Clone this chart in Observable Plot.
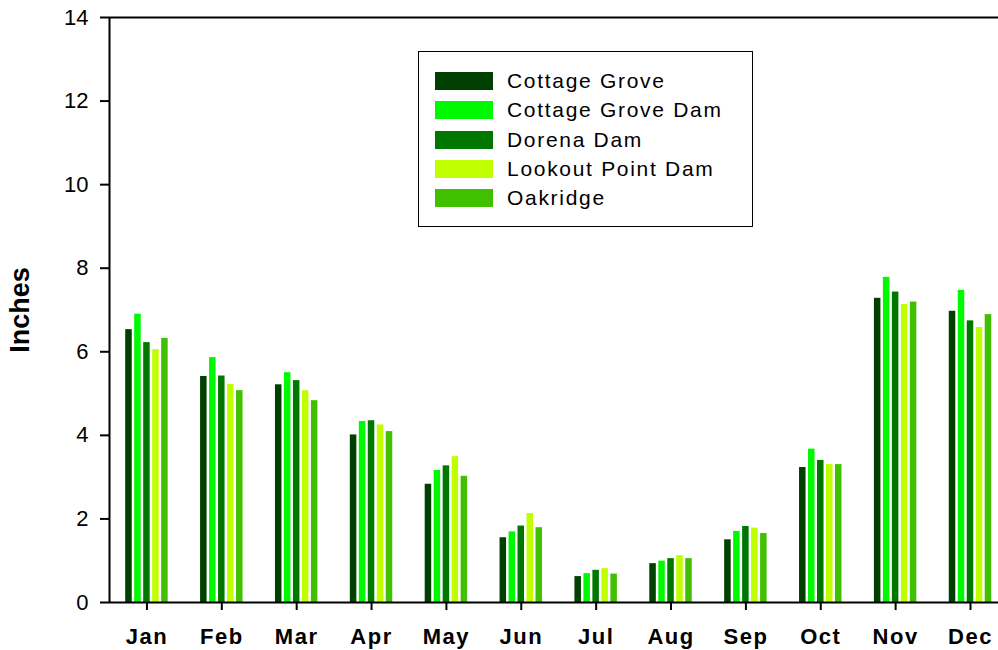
<!DOCTYPE html>
<html>
<head>
<meta charset="utf-8">
<script src="https://cdn.jsdelivr.net/npm/d3@7"></script>
<script src="https://cdn.jsdelivr.net/npm/@observablehq/plot@0.6"></script>
<style>
  html, body { margin: 0; padding: 0; background: #fff; overflow: hidden; }
  #wrap { position: relative; width: 998px; height: 650px; font-family: "Liberation Sans", Arial, sans-serif; }
  #legend { position: absolute; left: 418px; top: 51px; width: 333px; height: 174px; border: 1.5px solid #000; background: #fff; box-sizing: content-box; }
  .row { position: absolute; left: 16px; height: 20px; display: flex; align-items: center; }
  .sw { width: 58px; height: 18px; margin-right: 14px; }
  .lab { font-size: 21px; letter-spacing: 1.7px; color: #000; white-space: nowrap; }
</style>
</head>
<body>
<div id="wrap"><div id="chart"></div><div id="legend"></div></div>
<script>
const months = ["Jan","Feb","Mar","Apr","May","Jun","Jul","Aug","Sep","Oct","Nov","Dec"];
const series = ["Cottage Grove","Cottage Grove Dam","Dorena Dam","Lookout Point Dam","Oakridge"];
const colors = ["#004000","#00f800","#007800","#c0ff00","#40c000"];
const cottageGrove     = [6.53,5.41,5.21,4.01,2.83,1.55,0.62,0.93,1.50,3.23,7.28,6.97];
const cottageGroveDam  = [6.90,5.86,5.50,4.33,3.16,1.69,0.69,0.99,1.70,3.67,7.78,7.47];
const dorenaDam        = [6.22,5.42,5.31,4.35,3.27,1.83,0.77,1.05,1.82,3.40,7.43,6.74];
const lookoutPointDam  = [6.05,5.22,5.07,4.25,3.49,2.13,0.81,1.12,1.78,3.30,7.13,6.58];
const oakridge         = [6.32,5.07,4.83,4.09,3.02,1.79,0.68,1.05,1.65,3.30,7.19,6.89];
const yTicks = [0,2,4,6,8,10,12,14];

const valueArrays = [cottageGrove, cottageGroveDam, dorenaDam, lookoutPointDam, oakridge];
const data = [];
valueArrays.forEach((arr, s) => arr.forEach((v, i) => data.push({month: i + 1, s, series: series[s], value: v})));

const step = 0.12, bw = 0.087;
const fontFamily = '"Liberation Sans", Arial, sans-serif';

const chart = Plot.plot({
  width: 998,
  height: 650,
  marginLeft: 109,
  marginRight: 0,
  marginTop: 17,
  marginBottom: 48,
  style: {fontFamily, background: "#fff", color: "#000"},
  x: {type: "linear", domain: [0.5, 12.374]},
  y: {domain: [0, 14]},
  color: {domain: series, range: colors},
  marks: [
    Plot.rectY(data, {
      x1: d => d.month + (d.s - 2) * step - bw / 2,
      x2: d => d.month + (d.s - 2) * step + bw / 2,
      y1: 0,
      y2: "value",
      fill: "series"
    }),
    Plot.ruleY([0, 14], {stroke: "#000", strokeWidth: 2}),
    Plot.ruleX([0.5], {stroke: "#000", strokeWidth: 2}),
    Plot.axisY({
      ticks: yTicks, tickSize: 9, tickPadding: 12, strokeWidth: 2,
      fontSize: 22, label: "Inches", labelAnchor: "center", labelArrow: false, labelOffset: 100
    }),
    Plot.axisX({
      ticks: d3.range(1, 13), tickFormat: d => months[d - 1], tickSize: 8, tickPadding: 18,
      strokeWidth: 2, fontSize: 22, fontWeight: "bold", label: null
    })
  ]
});
chart.querySelectorAll("text").forEach(t => {
  if (t.textContent === "Inches") {
    t.setAttribute("font-weight", "bold");
    t.setAttribute("font-size", 27);
  } else if (months.includes(t.textContent)) {
    t.setAttribute("letter-spacing", "1.5");
  }
});
document.getElementById("chart").appendChild(chart);

const legend = document.getElementById("legend");
series.forEach((name, i) => {
  const r = document.createElement("div");
  r.className = "row";
  r.style.top = (19 + i * 29.3) + "px";
  const sw = document.createElement("div");
  sw.className = "sw";
  sw.style.background = colors[i];
  const lb = document.createElement("div");
  lb.className = "lab";
  lb.textContent = name;
  r.appendChild(sw); r.appendChild(lb);
  legend.appendChild(r);
});
</script>
</body>
</html>
